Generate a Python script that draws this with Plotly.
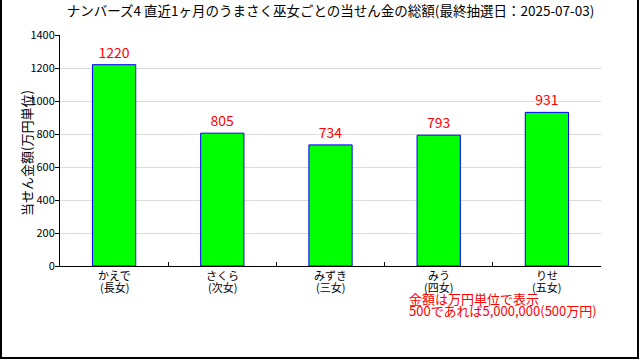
import plotly.graph_objects as go

names = ["かえで", "さくら", "みずき", "みう", "りせ"]
ranks = ["(長女)", "(次女)", "(三女)", "(四女)", "(五女)"]
values = [1220, 805, 734, 793, 931]
y_ticks = [0, 200, 400, 600, 800, 1000, 1200, 1400]

title_text = "ナンバーズ4 直近1ヶ月のうまさく巫女ごとの当せん金の総額(最終抽選日：2025-07-03)"
y_title = "当せん金額(万円単位)"
note_lines = ["金額は万円単位で表示", "500であれば5,000,000(500万円)"]

FONT = "Noto Sans CJK JP"
W, H = 640, 360
L, R, T, B = 60, 39, 35, 94
pw, ph = W - L - R, H - T - B

def px_x(p):
    return (p - L) / pw

def px_y(p):
    return (H - B - p) / ph

fig = go.Figure(go.Bar(
    x=names, y=values,
    width=0.4,
    marker=dict(color="#00ff00", line=dict(color="#0000ff", width=1)),
    text=[str(v) for v in values],
    textposition="outside",
    textfont=dict(color="#ff0000", size=14, family=FONT),
    cliponaxis=False,
))

annotations = []
for n, r in zip(names, ranks):
    annotations.append(dict(text=n, x=n, xref="x", yref="paper", y=px_y(275),
                            yanchor="middle", showarrow=False,
                            font=dict(size=11, color="black", family=FONT)))
    annotations.append(dict(text=r, x=n, xref="x", yref="paper", y=px_y(287),
                            yanchor="middle", showarrow=False,
                            font=dict(size=11, color="black", family=FONT)))
for i, line in enumerate(note_lines):
    annotations.append(dict(text=line, xref="paper", yref="paper",
                            x=px_x(407), y=px_y(298 + 12 * i), xanchor="left", yanchor="middle",
                            showarrow=False,
                            font=dict(color="#ff0000", size=13, family=FONT)))
annotations.append(dict(text=y_title, xref="paper", yref="paper", x=px_x(26), y=px_y(153),
                        xanchor="center", yanchor="middle", textangle=-90, showarrow=False,
                        font=dict(size=13, color="black", family=FONT)))

border = dict(type="line", xref="paper", yref="paper", line=dict(color="black", width=2))
fig.update_layout(
    width=W, height=H,
    margin=dict(l=L, r=R, t=T, b=B, autoexpand=False),
    paper_bgcolor="white", plot_bgcolor="white",
    font=dict(family=FONT, color="black", size=12),
    title=dict(text=title_text, x=0.5, xref="paper", xanchor="center",
               yref="container", y=1 - 11 / H, yanchor="middle", font=dict(size=13.5, color="black")),
    showlegend=False,
    xaxis=dict(type="category", tickson="boundaries", ticks="inside", ticklen=4,
               tickcolor="black", showline=True, linecolor="black", linewidth=1,
               showgrid=False, showticklabels=False, automargin=False),
    yaxis=dict(range=[0, 1400], tickvals=y_ticks, ticks="outside", ticklen=4,
               tickcolor="black", showline=True, linecolor="black", linewidth=1,
               showgrid=True, gridcolor="#dcdcdc", gridwidth=1, zeroline=False,
               tickfont=dict(size=11, color="black"), automargin=False,
               ticklabelstandoff=-2),
    annotations=annotations,
    shapes=[
        dict(border, x0=px_x(1), x1=px_x(1), y0=px_y(0), y1=px_y(358)),
        dict(border, x0=px_x(638), x1=px_x(638), y0=px_y(0), y1=px_y(358)),
        dict(border, x0=px_x(0), x1=px_x(639), y0=px_y(358), y1=px_y(358)),
    ],
)

fig.write_html("out.html", config={"displayModeBar": False},
               post_script="document.body.style.margin='0';")
